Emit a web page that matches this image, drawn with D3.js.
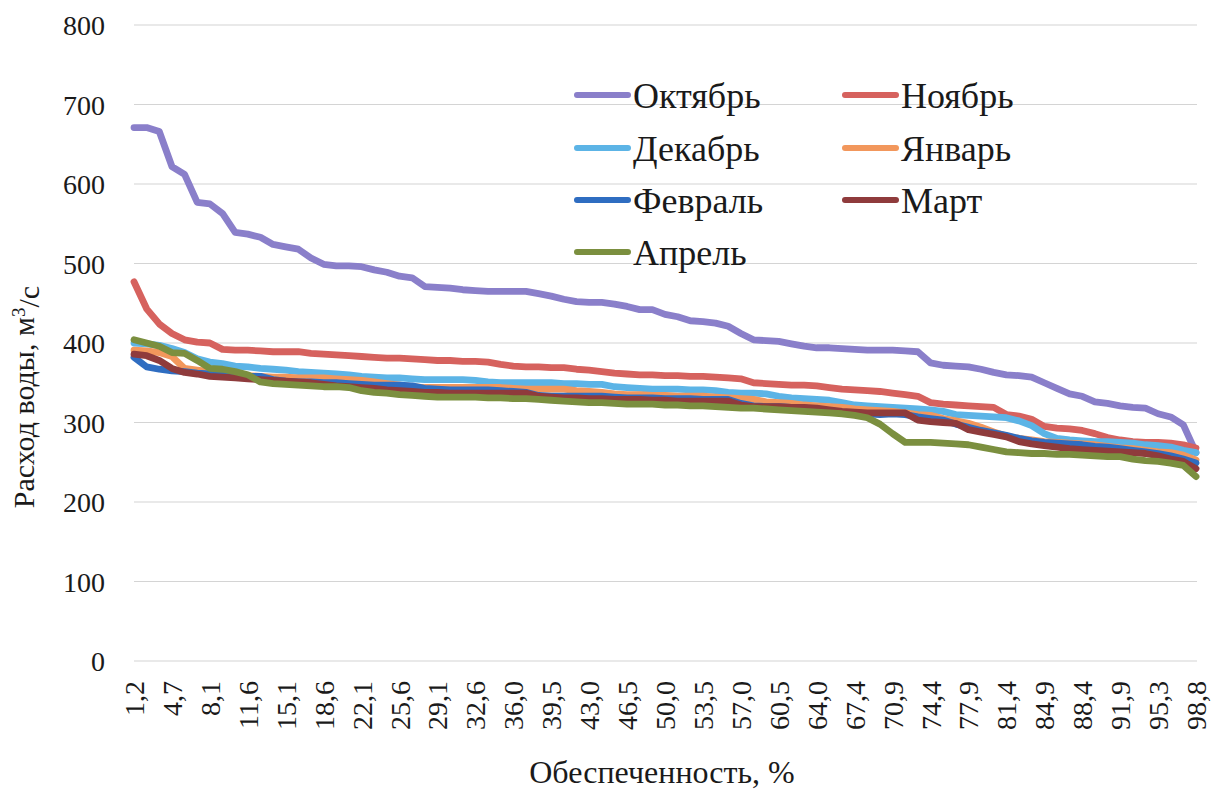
<!DOCTYPE html>
<html>
<head>
<meta charset="utf-8">
<script src="https://cdn.jsdelivr.net/npm/d3@7"></script>
<style>
  body { margin: 0; background: #fff; }
</style>
</head>
<body>
<svg id="chart" width="1214" height="791"></svg>
<script>
// обеспеченность, % (85 значений, подписи на оси через каждые три)
const categories = [
  "1,2","2,3","3,5","4,7","5,8","7,0","8,1","9,3","10,5","11,6","12,8","14,0","15,1","16,3","17,4",
  "18,6","19,8","20,9","22,1","23,3","24,4","25,6","26,7","27,9","29,1","30,2","31,4","32,6","33,7",
  "34,9","36,0","37,2","38,4","39,5","40,7","41,9","43,0","44,2","45,3","46,5","47,7","48,8","50,0",
  "51,2","52,3","53,5","54,7","55,8","57,0","58,1","59,3","60,5","61,6","62,8","64,0","65,1","66,3",
  "67,4","68,6","69,8","70,9","72,1","73,3","74,4","75,6","76,7","77,9","79,1","80,2","81,4","82,6",
  "83,7","84,9","86,0","87,2","88,4","89,5","90,7","91,9","93,0","94,2","95,3","96,5","97,7","98,8"
];

const october = [
  671,671,666,622,612,577,575,563,539,537,533,524,521,518,507,499,497,497,496,492,489,484,482,471,470,
  469,467,466,465,465,465,465,462,459,455,452,451,451,449,446,442,442,436,433,428,427,425,421,412,404,
  403,402,399,396,394,394,393,392,391,391,391,390,389,375,372,371,370,367,363,360,359,357,350,343,336,
  333,326,324,321,319,318,311,307,297,262
];
const november = [
  477,443,424,412,404,401,400,392,391,391,390,389,389,389,387,386,385,384,383,382,381,381,380,379,378,
  378,377,377,376,373,371,370,370,369,369,367,366,364,362,361,360,360,359,359,358,358,357,356,355,350,
  349,348,347,347,346,344,342,341,340,339,337,335,333,325,323,322,321,320,319,310,308,304,295,293,292,
  290,286,281,278,276,275,275,274,272,268
];
const december = [
  400,399,397,393,388,380,376,374,371,370,368,367,366,364,363,362,361,360,358,357,356,356,355,354,354,
  354,354,353,351,350,350,350,350,350,349,349,348,348,345,344,343,342,342,342,341,341,340,338,337,337,
  336,333,331,330,329,328,325,322,321,320,319,318,317,316,314,310,309,308,307,306,302,296,286,280,278,
  277,276,276,275,274,272,271,269,265,262
];
const january = [
  391,390,388,383,368,366,364,362,360,359,358,357,357,356,356,356,355,354,353,351,349,347,345,344,344,
  344,344,344,344,344,343,342,342,342,342,340,339,338,336,335,335,334,334,333,333,333,332,331,330,329,
  326,325,324,322,321,320,319,317,316,315,314,312,310,309,305,302,299,294,288,283,280,278,276,275,274,
  273,272,270,268,267,265,263,262,259,253
];
const february = [
  382,370,367,365,364,362,361,360,359,358,358,354,352,351,351,350,350,349,348,347,347,347,346,343,342,
  341,341,341,341,340,339,338,334,333,333,333,333,333,332,331,331,331,330,330,330,329,329,329,324,321,
  320,320,319,318,317,315,313,312,311,310,311,310,307,305,303,298,294,290,287,284,280,277,275,274,273,
  272,270,269,267,265,263,261,258,254,249
];
const march = [
  386,384,378,368,363,361,358,357,356,355,354,353,352,351,350,348,346,345,344,343,341,340,339,338,338,
  337,337,337,337,337,337,337,333,332,331,331,330,330,329,329,329,328,328,327,327,327,327,327,322,320,
  320,320,319,319,318,316,314,313,312,312,312,312,303,301,300,299,291,288,285,282,276,273,271,269,267,
  266,265,264,263,262,261,258,254,251,242
];
const april = [
  404,400,396,388,387,378,368,367,364,360,351,349,348,347,346,345,345,344,340,338,337,335,334,333,332,
  332,332,332,331,331,330,330,329,328,327,326,325,325,324,323,323,323,322,322,321,321,320,319,318,318,
  317,316,315,314,313,312,311,309,306,298,286,275,275,275,274,273,272,269,266,263,262,261,261,260,260,
  259,258,257,257,254,252,251,249,246,232
];

const seriesNames = ["Октябрь","Ноябрь","Декабрь","Январь","Февраль","Март","Апрель"];
const seriesValues = [october, november, december, january, february, march, april];
const seriesColors = ["#8a7fca","#d6625e","#5cb4e6","#f2975c","#2f6dc1","#8f3b3c","#7b8f3f"];
const yTicks = [0,100,200,300,400,500,600,700,800];

const fontFamily = "Liberation Serif";

const svg = d3.select("#chart");
const margin = { top: 25, right: 17, bottom: 130, left: 134 };
const width = +svg.attr("width");
const innerWidth = width - margin.left - margin.right;
const innerHeight = 661 - margin.top;

const g = svg.append("g").attr("transform", `translate(${margin.left},${margin.top})`);

const xScale = d3.scalePoint().domain(categories).range([0, innerWidth - 1]);
const yScale = d3.scaleLinear().domain([0, 800]).range([innerHeight, 0]);

// сетка
g.append("g")
  .selectAll("line")
  .data(yTicks)
  .enter().append("line")
    .attr("x1", 0)
    .attr("x2", innerWidth)
    .attr("y1", d => yScale(d))
    .attr("y2", d => yScale(d))
    .attr("stroke", "#d4d4d4")
    .attr("stroke-width", 1.2);

// ось Y
const yAxis = d3.axisLeft(yScale).tickValues(yTicks).tickSize(0).tickPadding(29);
const yAxisG = g.append("g").call(yAxis)
  .attr("font-family", fontFamily)
  .attr("font-size", 28);
yAxisG.select(".domain").remove();
yAxisG.selectAll("text").attr("dy", "0.34em").attr("fill", "#1a1a1a");

// ось X
const xAxis = d3.axisBottom(xScale)
  .tickValues(categories.filter((d, i) => i % 3 === 0))
  .tickSize(0);
const xAxisG = g.append("g")
  .attr("transform", `translate(0,${innerHeight})`)
  .call(xAxis)
  .attr("font-family", fontFamily)
  .attr("font-size", 28);
xAxisG.select(".domain").remove();
xAxisG.selectAll("text")
  .attr("fill", "#1a1a1a")
  .attr("text-anchor", "end")
  .attr("transform", "translate(0,20) rotate(-90)")
  .attr("x", 0)
  .attr("y", 0)
  .attr("dy", "0.34em");

// линии
const line = d3.line()
  .x((d, i) => xScale(categories[i]))
  .y(d => yScale(d));

g.append("g")
  .selectAll("path")
  .data(seriesValues)
  .enter().append("path")
    .attr("fill", "none")
    .attr("stroke", (d, i) => seriesColors[i])
    .attr("stroke-width", 6.8)
    .attr("stroke-linejoin", "round")
    .attr("stroke-linecap", "round")
    .attr("d", line);

// подписи осей
svg.append("text")
  .attr("x", 662)
  .attr("y", 783)
  .attr("text-anchor", "middle")
  .attr("font-family", fontFamily)
  .attr("font-size", 32)
  .attr("fill", "#1a1a1a")
  .text("Обеспеченность, %");

const yTitle = svg.append("text")
  .attr("transform", "translate(34,397) rotate(-90)")
  .attr("text-anchor", "middle")
  .attr("font-family", fontFamily)
  .attr("font-size", 30)
  .attr("fill", "#1a1a1a");
yTitle.append("tspan").text("Расход воды, м");
yTitle.append("tspan").attr("dy", "-0.45em").attr("font-size", 19).text("3");
yTitle.append("tspan").attr("dy", "0.45em").text("/с");

// легенда
const legendPos = [
  [577, 95], [845, 95],
  [577, 148], [845, 148],
  [577, 200], [845, 200],
  [577, 252]
];
const legend = svg.append("g")
  .selectAll("g")
  .data(seriesNames)
  .enter().append("g")
    .attr("transform", (d, i) => `translate(${legendPos[i][0]},${legendPos[i][1]})`);
legend.append("line")
  .attr("x1", 0).attr("x2", 51)
  .attr("y1", 0).attr("y2", 0)
  .attr("stroke", (d, i) => seriesColors[i])
  .attr("stroke-width", 6)
  .attr("stroke-linecap", "round");
legend.append("text")
  .attr("x", 56)
  .attr("dy", "0.35em")
  .attr("font-family", fontFamily)
  .attr("font-size", 36)
  .attr("fill", "#1a1a1a")
  .text(d => d);
</script>
</body>
</html>
